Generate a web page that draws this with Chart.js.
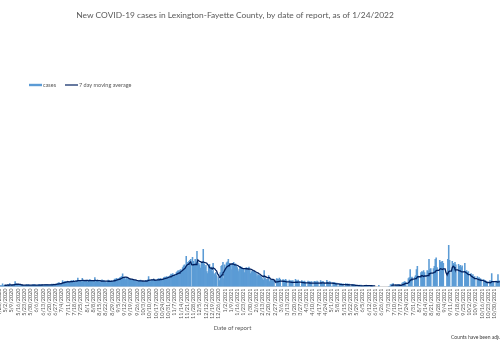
<!DOCTYPE html>
<html>
<head>
<meta charset="utf-8">
<script src="https://cdn.jsdelivr.net/npm/chart.js@4.4.1/dist/chart.umd.min.js"></script>
<style>
  html, body { margin: 0; padding: 0; background: #fff; overflow: hidden; }
  body { width: 500px; height: 342px; position: relative; }
  /* the plot runs past both edges of the window, so the canvas is a bit wider */
  #wrap { position: absolute; left: -3px; top: 0; width: 506px; height: 342px; }
</style>
</head>
<body>
<div id="wrap"><canvas id="chart"></canvas></div>
<script>
const chartTitle = 'New COVID-19 cases in Lexington-Fayette County, by date of report, as of 1/24/2022';
const axisTitle = 'Date of report';
const footnote = 'Counts have been adjusted';
const barColor = '#5b9bd5';
const lineColor = '#002060';

// daily new cases, one row per week starting Saturday 4/25/2020
// (null = no report for that day)
const cases = [
  8, 12, 6, 10, 27, 9, 11,
  14, 9, 16, 12, 18, 30, 10,
  12, 8, 22, 18, 50, 26, 20,
  12, 9, 16, 18, 14, 17, 11,
  10, 8, 15, 18, 14, 20, 12,
  9, 6, 14, 20, 16, 18, 12,
  10, 7, 16, 22, 18, 15, 20,
  12, 9, 16, 20, 18, 19, 14,
  14, 10, 20, 24, 22, 25, 18,
  22, 18, 30, 34, 38, 32, 28,
  30, 60, 40, 48, 52, 45, 50,        // 7/4/2020
  45, 38, 50, 55, 58, 52, 62,
  50, 42, 56, 60, 85, 58, 54,
  52, 44, 82, 60, 64, 55, 62,
  55, 42, 62, 68, 66, 58, 56,
  52, 40, 90, 62, 58, 64, 50,
  48, 38, 60, 66, 55, 62, 50,
  46, 36, 54, 64, 58, 50, 56,
  55, 45, 62, 75, 70, 82, 72,
  80, 62, 88, 95, 98, 127, 90,       // 9/5/2020
  85, 70, 88, 80, 76, 72, 68,
  70, 62, 74, 66, 58, 62, 55,
  52, 46, 60, 58, 64, 55, 50,
  50, 42, 56, 62, 58, 66, 100,
  58, 50, 64, 70, 62, 74, 60,
  64, 55, 72, 78, 70, 82, 68,
  75, 66, 88, 95, 90, 100, 92,
  98, 85, 110, 125, 118, 130, 112,   // 10/31/2020
  120, 105, 140, 150, 160, 145, 165,
  170, 150, 190, 205, 215, 200, 300,
  240, 200, 250, 260, 270, 0, 290,
  250, 210, 270, 240, 350, 245, 230,
  215, 185, 230, 240, 370, 225, 195,
  210, 150, 130, 200, 220, 180, 195,
  150, 230, 130, 120, 140, 110, 0,
  90, 60, 140, 200, 210, 240, 80,
  215, 165, 235, 245, 270, 230, 205, // 1/2/2021
  220, 170, 230, 240, 215, 225, 200,
  190, 150, 170, 200, 185, 195, 175,
  180, 140, 175, 190, 185, 170, 195,
  165, 130, 150, 160, 145, 155, 140,
  130, 100, 120, 115, 110, 105, 95,
  80, 65, 160, 90, 75, 70, 72,
  110, 50, 65, 70, 60, 62, 55,
  0, 0, 80, 75, 70, 85, 72,          // 2/27/2021, no weekend reports from here
  0, 0, 70, 65, 60, 72, 58,
  0, 0, 65, 55, 60, 52, 58,
  0, 0, 72, 60, 55, 65, 50,
  0, 0, 60, 50, 48, 55, 45,
  0, 0, 55, 45, 50, 42, 48,
  0, 0, 52, 48, 40, 55, 46,
  0, 0, 60, 45, 50, 48, 40,
  0, 0, 62, 45, 42, 50, 44,
  0, 0, 42, 35, 38, 30, 33,          // 5/1/2021
  0, 0, 30, 25, 28, 22, 26,
  0, 0, 28, 22, 26, 20, 24,
  0, 0, 20, 16, 18, 15, 14,
  0, 0, 0, 14, 12, 15, 10,
  0, 0, 12, 10, 14, 9, 11,
  0, 0, 10, 8, 9, null, null,
  null, null, null, null, 12, null, null,
  null, null, null, null, null, null, null,
  null, 0, 0, 20, 18, 25, 30,        // 7/3/2021
  0, 0, 12, 15, 20, 22, 18,
  0, 0, 35, 40, 45, 50, 42,
  0, 0, 80, 90, 170, 85, 95,
  0, 0, 95, 110, 170, 200, 105,
  0, 0, 140, 150, 145, 160, 140,
  0, 0, 160, 150, 270, 170, 180,
  0, 0, 180, 200, 270, 285, 190,
  0, 0, 260, 240, 245, 250, 230,
  0, 0, 0, 130, 270, 410, 260,       // 9/4/2021
  0, 0, 250, 230, 220, 240, 215,
  0, 0, 220, 200, 210, 190, 205,
  0, 0, 230, 150, 160, 140, 150,
  0, 0, 130, 110, 120, 95, 100,
  0, 0, 100, 85, 90, 80, 75,
  0, 0, 70, 55, 60, 50, 45,
  0, 0, 60, 55, 130, 50, 45,
  0, 0, 55, 50, 120, 60, 50
];

// one category per day
const dates = cases.map((_, i) => {
  const d = new Date(2020, 3, 25 + i);
  return (d.getMonth() + 1) + '/' + d.getDate() + '/' + d.getFullYear();
});
// the axis only labels every 7th day
const tickLabels = dates.map((d, i) => (i % 7 === 0 ? d : null));

// trailing 7 day average, needs at least 4 reported days in the window
const movingAvg = cases.map((_, i) => {
  if (i < 6) return null;
  const win = cases.slice(i - 6, i + 1).filter(v => v !== null);
  if (win.length < 4) return null;
  return win.reduce((a, b) => a + b, 0) / win.length;
});

const DX = 3; // canvas starts 3px left of the page

const decorations = {
  id: 'decorations',
  afterDraw(chart) {
    const ctx = chart.ctx;
    const bars = chart.data.datasets.find(ds => ds.type === 'bar');
    const line = chart.data.datasets.find(ds => ds.type === 'line');
    ctx.save();
    ctx.textBaseline = 'middle';

    ctx.fillStyle = '#595959';
    ctx.font = '8.4px Lato';
    ctx.textAlign = 'center';
    ctx.fillText(chartTitle, 235 + DX, 15.5);

    // legend
    ctx.font = '5.5px Lato';
    ctx.textAlign = 'left';
    ctx.fillStyle = bars.backgroundColor;
    ctx.fillRect(29 + DX, 83.8, 13, 2.4);
    ctx.fillStyle = '#595959';
    ctx.fillText(bars.label, 43 + DX, 85);
    ctx.strokeStyle = line.borderColor;
    ctx.lineWidth = 1.2;
    ctx.beginPath();
    ctx.moveTo(65 + DX, 85);
    ctx.lineTo(78 + DX, 85);
    ctx.stroke();
    ctx.fillText(line.label, 79 + DX, 85);

    ctx.font = '6px Lato';
    ctx.textAlign = 'center';
    ctx.fillText(axisTitle, 232.5 + DX, 328.5);

    ctx.font = '5px Lato';
    ctx.textAlign = 'left';
    ctx.fillStyle = '#404040';
    ctx.fillText(footnote, 451 + DX, 337);
    ctx.restore();
  }
};

new Chart(document.getElementById('chart'), {
  type: 'bar',
  data: {
    labels: dates,
    datasets: [
      {
        type: 'line',
        label: '7 day moving average',
        data: movingAvg,
        borderColor: lineColor,
        borderWidth: 1.3,
        pointRadius: 0,
        tension: 0,
        spanGaps: false,
        order: 0
      },
      {
        type: 'bar',
        label: 'cases',
        data: cases,
        backgroundColor: barColor,
        barPercentage: 1,
        categoryPercentage: 1,
        order: 1
      }
    ]
  },
  options: {
    responsive: true,
    maintainAspectRatio: false,
    animation: false,
    layout: { padding: { top: 100, right: 1, bottom: 21, left: 1 } },
    plugins: {
      legend: { display: false },
      title: { display: false },
      tooltip: { enabled: false }
    },
    scales: {
      x: {
        grid: { display: false, drawTicks: false },
        border: { color: '#d9d9d9', width: 1 },
        ticks: {
          autoSkip: false,
          minRotation: 90,
          maxRotation: 90,
          padding: 2,
          color: '#595959',
          font: { family: 'Lato', size: 5.5 },
          callback: (v, i) => tickLabels[i]
        }
      },
      y: { display: false, min: 0, max: 1860 }
    }
  },
  plugins: [decorations]
});
</script>
</body>
</html>
